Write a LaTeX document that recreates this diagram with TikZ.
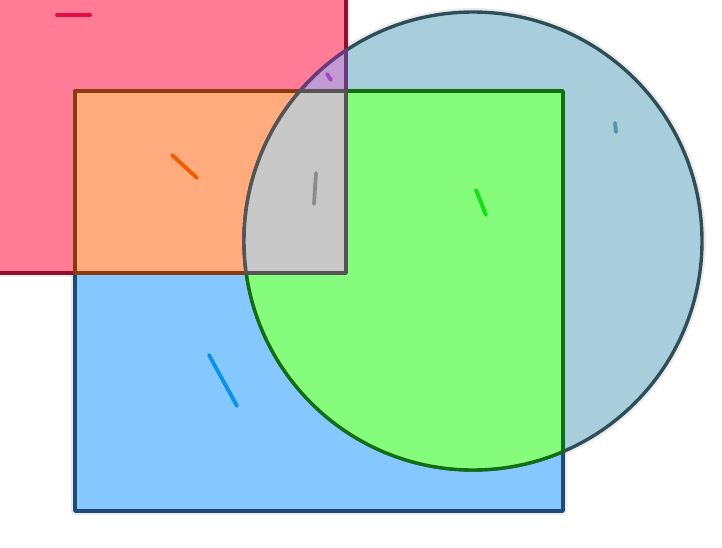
\documentclass[tikz,border=0pt]{standalone}
\begin{document}
\begin{tikzpicture}[x=1pt,y=-1pt,line join=round,
  edge/.style={line width=3.4pt},
  halo/.style={line width=8pt,draw=black,draw opacity=0.08},
  tick/.style={line width=3.8pt,line cap=round}]
\definecolor{pinkF}{RGB}{255,123,150}\definecolor{pinkD}{RGB}{140,16,48}
\definecolor{blueF}{RGB}{132,200,255}\definecolor{blueD}{RGB}{30,76,120}
\definecolor{circF}{RGB}{168,205,219}\definecolor{circD}{RGB}{47,79,88}
\definecolor{oranF}{RGB}{255,171,126}\definecolor{oranD}{RGB}{139,58,16}
\definecolor{greenF}{RGB}{134,252,124}\definecolor{greenD}{RGB}{16,112,16}
\definecolor{purpF}{RGB}{195,155,211}\definecolor{purpD}{RGB}{106,58,122}
\definecolor{greyF}{RGB}{200,200,200}\definecolor{greyD}{RGB}{85,85,85}
\useasboundingbox[fill=white] (0,0) rectangle (722,548);
\def\pinkpath{(-20,-20) rectangle (346,273)}
\def\bluepath{(75,91) rectangle (563,511)}
\def\circpath{(473,241) circle[radius=229pt]}
% soft halos
\draw[halo] \pinkpath; \draw[halo] \bluepath; \draw[halo] \circpath;
% base shapes
\filldraw[edge,fill=pinkF,draw=pinkD] \pinkpath;
\filldraw[edge,fill=blueF,draw=blueD] \bluepath;
\filldraw[edge,fill=circF,draw=circD] \circpath;
% pink & blue (orange)
\begin{scope}\clip \pinkpath; \filldraw[edge,fill=oranF,draw=oranD] \bluepath;\end{scope}
\begin{scope}\clip \bluepath; \draw[edge,draw=oranD] \pinkpath;\end{scope}
% blue & circle (green)
\begin{scope}\clip \bluepath; \filldraw[edge,fill=greenF,draw=greenD] \circpath;\end{scope}
\begin{scope}\clip \circpath; \draw[edge,draw=greenD] \bluepath;\end{scope}
% pink & circle (purple)
\begin{scope}\clip \pinkpath; \filldraw[edge,fill=purpF,draw=purpD] \circpath;\end{scope}
\begin{scope}\clip \circpath; \draw[edge,draw=purpD] \pinkpath;\end{scope}
% all three (grey)
\begin{scope}\clip \pinkpath; \clip \bluepath; \filldraw[edge,fill=greyF,draw=greyD] \circpath;\end{scope}
\begin{scope}\clip \pinkpath; \clip \circpath; \draw[edge,draw=greyD] \bluepath;\end{scope}
\begin{scope}\clip \bluepath; \clip \circpath; \draw[edge,draw=greyD] \pinkpath;\end{scope}
% ticks
\coordinate (p1) at (57,15); \coordinate (p2) at (90,15);
\draw[tick,draw={rgb,255:red,230;green,10;blue,70}] (p1) -- (p2);
\coordinate (u1) at (327,74); \coordinate (u2) at (331,80);
\draw[tick,draw={rgb,255:red,165;green,70;blue,200}] (u1) -- (u2);
\coordinate (o1) at (172,155); \coordinate (o2) at (197,178);
\draw[tick,draw={rgb,255:red,240;green,90;blue,0}] (o1) -- (o2);
\coordinate (g1) at (316,173); \coordinate (g2) at (314,204);
\draw[tick,draw={rgb,255:red,140;green,140;blue,140}] (g1) -- (g2);
\coordinate (n1) at (476,190); \coordinate (n2) at (486,215);
\draw[tick,draw={rgb,255:red,20;green,225;blue,20}] (n1) -- (n2);
\coordinate (c1) at (615,123); \coordinate (c2) at (616,132);
\draw[tick,draw={rgb,255:red,80;green,150;blue,165}] (c1) -- (c2);
\coordinate (b1) at (209,355); \coordinate (b2) at (237,406);
\draw[tick,draw={rgb,255:red,10;green,145;blue,235}] (b1) -- (b2);
\end{tikzpicture}
\end{document}
